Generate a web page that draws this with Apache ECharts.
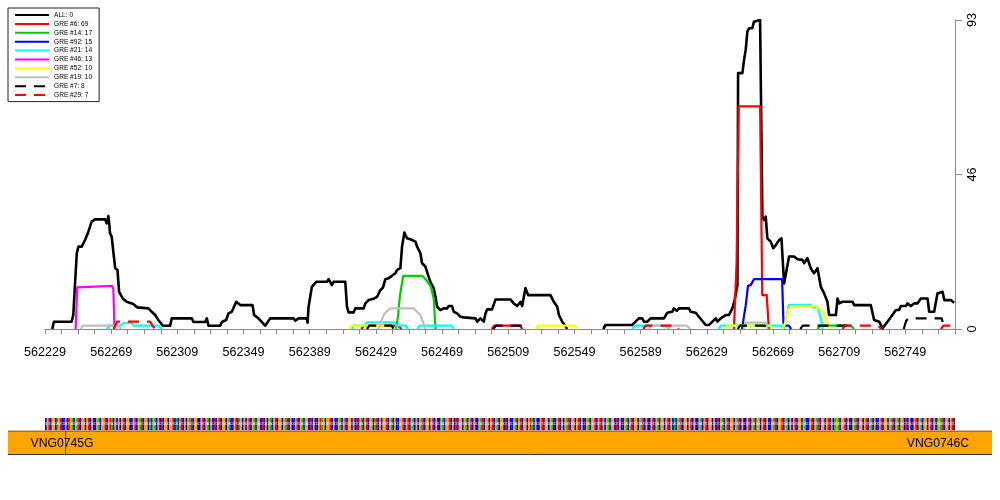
<!DOCTYPE html>
<html><head><meta charset="utf-8">
<script src="https://cdn.jsdelivr.net/npm/echarts@6/dist/echarts.min.js"></script>
<style>html,body{margin:0;padding:0;background:#fff}#c{width:1000px;height:500px}</style>
</head><body><div id="c"></div>
<script>
// ---------- data ----------
const X_MIN = 562229, X_MAX = 562779;
const yTickLabels = ['0', '46', '93'];
const seriesNames = ['ALL: 0','GRE #6: 69','GRE #14: 17','GRE #92: 15','GRE #21: 14','GRE #46: 13','GRE #52: 10','GRE #19: 10','GRE #7: 8','GRE #29: 7'];

const allSites = [[562233.4,0],[562234.4,2.2],[562245.1,2.2],[562246.1,4.2],[562247.2,4.2],[562248.2,22.8],[562249.2,24.8],[562251.2,24.8],[562253.2,26.8],[562255.2,29.3],[562257.2,32.3],[562259.3,33],[562265.3,33],[562266.3,31.8],[562267.3,34],[562267.9,31.3],[562268.3,28.8],[562269.3,27.8],[562271.4,18.3],[562272.8,17.8],[562273.8,11.2],[562276,9.2],[562278.4,8.2],[562282.4,7.5],[562284.8,6.5],[562291.5,6.2],[562293.5,5.2],[562295.6,4.2],[562297.5,2.7],[562300.2,1],[562304.6,1],[562305.6,3.2],[562317.8,3.2],[562318.7,2.1],[562325.8,2.1],[562326.8,3.2],[562327.8,1],[562334.9,1],[562335.9,2.1],[562338.5,2.7],[562339.9,4.7],[562341.9,5.2],[562344.6,8.2],[562347,7.2],[562354.4,7.2],[562355.4,4.2],[562358,3.2],[562362.1,1],[562365.1,3.2],[562379.2,3.2],[562380.3,2.5],[562382.2,3.2],[562387.3,3.2],[562387.7,1.9],[562388.3,6.7],[562390.3,12.7],[562392.9,14.2],[562399.4,14.2],[562400.4,15],[562402.4,13.2],[562403.4,14.2],[562410.5,14.2],[562411.5,6.7],[562412.5,5],[562415.5,5],[562416.5,6.2],[562421.6,6.2],[562422.6,7.7],[562424.6,8.7],[562425.6,8.2],[562428,9.2],[562429.7,9.7],[562431.7,11.7],[562433.3,12.5],[562434.7,15],[562436.7,15.3],[562438.7,16],[562440.8,16.8],[562441.8,17.8],[562443.8,18.3],[562444.8,24.8],[562446.2,29],[562447.8,27.3],[562449.8,27],[562452.9,26.3],[562453.9,24.8],[562455.9,22.8],[562456.9,19.8],[562458.9,18.8],[562460.9,15.7],[562461.9,14.2],[562463.9,12.3],[562465,9.7],[562466,6.7],[562468,5.7],[562470,6.2],[562472,6.2],[562473,6.9],[562475,6.9],[562476,5.2],[562478,4.7],[562480.1,3.7],[562482.1,3.5],[562483.1,3.2],[562489.2,3.2],[562490.2,2.2],[562492.2,3.2],[562494.2,2.2],[562495.2,4.7],[562496.2,5.9],[562499.2,5.9],[562501.3,8.9],[562510.3,8.9],[562512.3,7.7],[562514.4,6.9],[562516.4,8.2],[562517.4,6.9],[562519.4,12.3],[562521,10.2],[562534.5,10.2],[562536.5,8.2],[562538.6,6.7],[562539.6,4.2],[562541.6,2.2],[562543.6,0.9],[562544.5,0],null,
[562566.4,0],[562567.8,1.2],[562583.9,1.2],[562585.9,2.2],[562587.9,3.2],[562590,3.2],[562591,2.2],[562593,2.2],[562595,3.2],[562603.1,3.2],[562605.1,4.9],[562608.1,5.2],[562609.1,6.2],[562610.8,5.5],[562612.2,6.2],[562618.2,6.2],[562619.2,5.2],[562622.3,4.9],[562624.2,3.7],[562628.3,1.2],[562630.3,1.2],[562634.4,3.2],[562635.4,2.2],[562637.4,3.2],[562638.4,3.2],[562640.4,4.2],[562642.4,4.2],[562644.4,6.2],[562645.8,8.7],[562647.5,13.2],[562647.9,77],[562650.5,77],[562651.5,81],[562652.5,84],[562653.5,89.5],[562654.5,90.5],[562656.5,90.5],[562657.5,92.5],[562658.5,93],[562661.2,93],[562662,58.9],[562662.6,33.8],[562663.6,32.8],[562664.6,33.8],[562665.6,27.3],[562667.6,26.3],[562669.2,24.3],[562670.7,25.3],[562672.7,26.8],[562674.1,27.3],[562675.7,13.7],[562678.7,21.8],[562681.7,21.8],[562683.8,21],[562686.8,20.8],[562687.8,19.8],[562689.8,21.3],[562691.8,18.3],[562693.8,16.8],[562695.9,18.3],[562697.9,12.7],[562699.9,10.7],[562701.9,8.2],[562702.9,4.2],[562707,4.2],[562708,9.2],[562709,7.7],[562711,8.2],[562717.1,8.2],[562718.1,7.2],[562728.1,7.2],[562730.1,2.7],[562733.2,2.2],[562735.2,0.2],[562738.2,2.2],[562743.3,5.7],[562745.2,5.7],[562746.3,6.9],[562749.3,6.9],[562750.3,7.7],[562752.3,6.9],[562754.3,7.7],[562756.3,7.7],[562758.4,9.2],[562762.4,9.2],[562763.4,5.2],[562766.4,5.2],[562768.4,10.7],[562771.5,11.2],[562772.5,8.7],[562776.5,8.7],[562778.5,7.9]];

const gre6 = [[562420.2,0],[562421.8,1],[562442.5,1],[562444.5,0],null,
[562499,0],[562500.5,1],[562516,1],[562517.5,0],null,
[562645.4,0],[562647,20],[562648.3,67],[562661.2,67],[562662.5,10.2],[562665.2,10.2],[562666.5,0]];

const gre14 = [[562441.2,0],[562442.4,4],[562443.5,10],[562445.5,16],[562457,16],[562459,15],[562462,13],[562464,9],[562465,0],null,
[562695.8,0],[562697.5,1],[562716,1],[562718,0]];

const gre92 = [[562650.3,0],[562651.5,4],[562652.5,7],[562653.9,13],[562655.5,13.2],[562657.5,15],[562674.5,15],[562675.3,2],[562675.8,1],[562678.5,1],[562680,0]];

const gre21 = [[562266.2,0],[562268.3,1],[562274.4,1],[562277,1.8],[562281.5,1.8],[562282.3,1],[562297.5,1],[562299.6,0],null,
[562414.6,0],[562415.8,1],[562422,1],[562423.5,2],[562440,2],[562441.5,1],[562447,1],[562448.5,0],null,
[562454,0],[562455.5,1],[562474.5,1],[562476,0],null,
[562583.9,0],[562585.5,1],[562604.5,1],[562606,0],null,
[562636.2,0],[562637.5,1],[562674,1],[562675,0],null,
[562675.5,0],[562677,3],[562678.5,7.3],[562692,7.3],[562693,6.5],[562696,6.5],[562698,3],[562699,0]];

const gre46 = [[562247.5,0],[562248.5,12.5],[562249.3,13],[562269.5,13],[562270.3,12],[562271,0]];

const gre52 = [[562412.9,0],[562414.2,1],[562436.5,1],[562437.8,0],null,
[562525.5,0],[562527,1],[562549,1],[562550.6,0],null,
[562639.8,0],[562641.2,1],[562667.5,1],[562668.8,0],null,
[562674.7,0],[562676.5,2],[562678,5.5],[562680,6.9],[562695,6.9],[562699.5,5],[562701.5,2],[562703,0]];

const gre19 = [[562250.6,0],[562251.8,1],[562273.5,1],[562275,0],null,
[562430.6,0],[562432,2],[562433.7,4.2],[562435,5],[562437.7,6.2],[562451.8,6.2],[562453.9,5.2],[562455.9,4.2],[562457.5,2],[562458.9,0],null,
[562594,0],[562595.5,1],[562617,1],[562619,0],null,
[562651.3,0],[562652.5,1.9],[562664.5,1.9],[562665.8,0]];

const gre7 = [[562423.6,0],[562425,1],[562438.5,1],[562439.8,0],null,
[562500,0],[562501.5,1],[562519,1],[562521,0],null,
[562647.7,0],[562649,1],[562664,1],[562665.5,0],null,
[562685.5,0],[562687,1],[562716,1],[562717.5,0],null,
[562748,0],[562749.5,2.5],[562751,3.2],[562771,3.2],[562772.5,0]];

const gre29 = [[562270.5,0],[562272.5,2.2],[562292.5,2.2],[562294,1],[562295.5,0],null,
[562590.5,0],[562592,1],[562610.5,1],[562612,0],null,
[562711,0],[562712.5,1],[562732.5,1],[562734.5,0],null,
[562770.5,0],[562772,1],[562779,1]];

// genes (lower track)
const geneNames = ['VNG0745G', 'VNG0746C'];
const geneStart = [562100, 562241];
const geneEnd = [562241, 562900];
const geneLabelAt = [562239.3, 562769.3];

// sequence track, one letter per base from 562229 (estimated from the coloured stripes)
const sequenceBlocks = [
  'CGTCGGCAGT','CCGCTGACGA','TCGGCGTCGC','CGACGGTCGT','ACGCGCGTCG',
  'GCCGTCGATC','GGCACGACGC','TCGGCGGTCA','CGTCGCGATC','GGCCGTCGAC',
  'GCTCGTCGGC','GACCGTCAGC','GCGTCGACGG','CTCGCGACGT','CGGCGATCGC',
  'CGTCGACGGC','TCGCCGTAGC','GGTCGCCGAC','GTCGGCGCTC','GACGTCGGCA',
  'TCGCGGTCGA','CGCCGGTCGT','CGACGCGATC','GGCGTCGCCG','ACGGTCGCTC',
  'GGCGACGTCG','CCGATCGGCG','TCGACGGCTC','GCCGACGTCG','GCGTACGCCG',
  'TCGGCGACCG','TCGCGATCGG','CGTCGCCGAC','GGTCGTCGCG','ACGGCTCGCC',
  'GACGTCGGCG','ATCGCCGTCG','ACGGCGTCGC','ACGATCGGCG','TCGCCGACGT',
  'CGGCGCTCGA','CGTCGGCGAT','CGCCGTCGAC','GGCGTCGCCG','ATCGGTCGAC',
  'GCGTCGGCGA','CCGTCGATCG','GCGTCGCAGA','CGGTCGCCGA','TCGGCGTCGA',
  'CGCCGTCGGC','GATCGACGGC','TCGCCGTCGA','CGGCGTCGCA','GATCGGCGTC'
];
const sequence = sequenceBlocks.join('');

// ---------- style ----------
const FONT = '"Liberation Sans", Arial, Helvetica, sans-serif';
const colors = ['#000000','#FF0000','#00CD00','#0000FF','#00FFFF','#FF00FF','#FFFF00','#BEBEBE','#000000','#FF0000'];
const dashedIdx = [8, 9];
const baseColors = {A:'#00CD00', C:'#0000FF', G:'#FFA500', T:'#FF0000'};
const AXIS_GRAY = '#8a8a8a';

const lineSets = [allSites, gre6, gre14, gre92, gre21, gre46, gre52, gre19, gre7, gre29];

const series = seriesNames.map((n, i) => ({
  type: 'line', name: n, xAxisIndex: 0, yAxisIndex: 0,
  data: lineSets[i].map(p => p ? p : ['-', '-']),
  symbol: 'none', showSymbol: false, silent: true, animation: false, clip: true,
  connectNulls: false,
  lineStyle: { color: colors[i], width: i === 0 ? 2.6 : 2.2,
    type: dashedIdx.includes(i) ? [11, 8] : 'solid', cap: 'butt', join: 'round' },
  itemStyle: { color: colors[i] }
}));

// sequence bars
series.push({
  type: 'custom', xAxisIndex: 1, yAxisIndex: 1, silent: true, animation: false, clip: true,
  data: sequence.split('').map((b, i) => [X_MIN + i, 'ACGT'.indexOf(b)]),
  renderItem(params, api) {
    const x = api.value(0), k = api.value(1);
    const p0 = api.coord([x, 1]), p1 = api.coord([x + 1, 0]);
    const b = 'ACGT'[k];
    return { type: 'group', children: [
      { type: 'rect', shape: { x: p0[0], y: p0[1], width: p1[0] - p0[0] + 0.3, height: p1[1] - p0[1] },
        style: { fill: baseColors[b] } },
      { type: 'text', z2: 5, style: { text: b, x: (p0[0] + p1[0]) / 2, y: (p0[1] + p1[1]) / 2,
        align: 'center', verticalAlign: 'middle', fill: 'rgba(255,255,255,0.85)', font: '3px ' + FONT } }
    ] };
  }
});

// genes
series.push({
  type: 'custom', xAxisIndex: 2, yAxisIndex: 2, silent: true, animation: false, clip: true,
  data: geneNames.map((g, i) => [geneStart[i], geneEnd[i], geneLabelAt[i], i]),
  renderItem(params, api) {
    const s = api.value(0), e = api.value(1), lp = api.value(2), gi = api.value(3);
    const cs = params.coordSys;
    const p0 = api.coord([s, 1]), p1 = api.coord([e, 0]);
    const rect = echarts.graphic.clipRectByRect(
      { x: p0[0], y: p0[1], width: p1[0] - p0[0], height: p1[1] - p0[1] },
      { x: cs.x, y: cs.y, width: cs.width, height: cs.height });
    if (!rect) return;
    const children = [
      { type: 'rect', shape: rect, style: { fill: '#FFA500' } },
      { type: 'line', shape: { x1: rect.x, y1: rect.y + 0.5, x2: rect.x + rect.width, y2: rect.y + 0.5 }, style: { stroke: '#444', lineWidth: 1 } },
      { type: 'line', shape: { x1: rect.x, y1: rect.y + rect.height - 0.5, x2: rect.x + rect.width, y2: rect.y + rect.height - 0.5 }, style: { stroke: '#333', lineWidth: 1 } }
    ];
    if (p0[0] > cs.x && p0[0] < cs.x + cs.width) {
      children.push({ type: 'line', shape: { x1: Math.round(p0[0]) + 0.5, y1: rect.y, x2: Math.round(p0[0]) + 0.5, y2: rect.y + rect.height }, style: { stroke: '#444', lineWidth: 1 } });
    }
    const lab = api.coord([lp, 0.5]);
    children.push({ type: 'text', z2: 10, style: { text: geneNames[gi], x: lab[0], y: lab[1] + 0.5, align: 'center', verticalAlign: 'middle', fill: '#000', font: '12.2px ' + FONT } });
    return { type: 'group', children };
  }
});

const option = {
  animation: false,
  backgroundColor: '#ffffff',
  textStyle: { fontFamily: FONT },
  grid: [
    { left: 45, right: 45, top: 20, height: 309 },
    { left: 45, right: 45, top: 418, height: 12.5 },
    { left: 8, right: 8, top: 430.5, height: 24.5 }
  ],
  legend: {
    orient: 'vertical', left: 8, top: 8,
    itemWidth: 34, itemHeight: 8, itemGap: 1.9,
    padding: [3.5, 7, 3, 6],
    borderColor: '#222', borderWidth: 1, borderRadius: 0, backgroundColor: '#fff',
    selectedMode: false,
    itemStyle: { opacity: 0 },
    textStyle: { fontSize: 6.6, color: '#000', fontFamily: FONT, padding: [0, 0, 0, 0] },
    data: seriesNames
  },
  xAxis: [
    { type: 'value', gridIndex: 0, min: X_MIN, max: X_MAX, interval: 10, offset: 8,
      axisLine: { show: true, lineStyle: { color: AXIS_GRAY, width: 1 } },
      axisTick: { show: true, length: 5, lineStyle: { color: AXIS_GRAY, width: 1 } },
      splitLine: { show: false },
      axisLabel: { show: true, margin: 9, color: '#000', fontSize: 12.6, fontFamily: FONT, hideOverlap: false,
        showMinLabel: true, showMaxLabel: true,
        formatter: v => ((Math.round(v) - X_MIN) % 40 === 0 ? String(Math.round(v)) : '') } },
    { type: 'value', gridIndex: 1, min: X_MIN, max: X_MAX, show: false },
    { type: 'value', gridIndex: 2, min: 562206.61, max: 562801.99, show: false }
  ],
  yAxis: [
    { type: 'value', gridIndex: 0, position: 'right', min: 0, max: 93, interval: 46.5,
      axisLine: { show: true, lineStyle: { color: AXIS_GRAY, width: 1 } },
      axisTick: { show: true, length: 7, lineStyle: { color: AXIS_GRAY, width: 1 } },
      splitLine: { show: false },
      axisLabel: { show: true, rotate: 90, margin: 11, color: '#000', fontSize: 12.6, fontFamily: FONT,
        formatter: (v, i) => yTickLabels[i] } },
    { type: 'value', gridIndex: 1, min: 0, max: 1, show: false },
    { type: 'value', gridIndex: 2, min: 0, max: 1, show: false }
  ],
  series
};

const chart = echarts.init(document.getElementById('c'), null, { renderer: 'canvas' });
chart.setOption(option);
</script>
</body></html>
